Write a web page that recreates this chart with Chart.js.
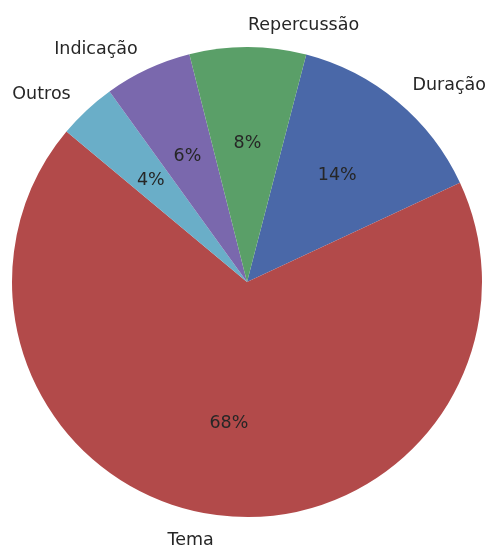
<!DOCTYPE html>
<html>
<head>
<meta charset="utf-8">
<script src="https://cdn.jsdelivr.net/npm/chart.js@4.4.0/dist/chart.umd.min.js"></script>
<style>
  html, body { margin: 0; padding: 0; background: #fff; }
  #wrap { width: 490px; height: 545px; }
</style>
</head>
<body>
<div id="wrap"><canvas id="chart" width="490" height="545"></canvas></div>
<script>
// slice data, clockwise from the top
const labels = ["Duração", "Tema", "Outros", "Indicação", "Repercussão"];
const values = [14, 68, 4, 6, 8];
const colors = ["#4a68a8", "#b24a4a", "#6aaec8", "#7a68ad", "#5a9f68"];

// matplotlib style labels: name outside at 1.1r, percent inside at 0.6r
const pieLabels = {
    id: "pieLabels",
    afterDatasetsDraw(chart) {
        const ctx = chart.ctx;
        const meta = chart.getDatasetMeta(0);
        const total = values.reduce((a, b) => a + b, 0);
        ctx.save();
        ctx.font = "17.5px 'DejaVu Sans'";
        ctx.fillStyle = "#262626";
        ctx.textBaseline = "middle";
        meta.data.forEach((arc, i) => {
            const p = arc.getProps(["x", "y", "startAngle", "endAngle", "outerRadius"], true);
            const mid = (p.startAngle + p.endAngle) / 2;
            const cos = Math.cos(mid), sin = Math.sin(mid);
            // outer label
            const lx = p.x + cos * p.outerRadius * 1.1;
            const ly = p.y + sin * p.outerRadius * 1.1 + 2;
            ctx.textAlign = cos < 0 ? "right" : "left";
            ctx.fillText(labels[i], lx, ly);
            // percent
            const pct = Math.round(values[i] / total * 100) + "%";
            ctx.textAlign = "center";
            ctx.fillText(pct, p.x + cos * p.outerRadius * 0.6, p.y + sin * p.outerRadius * 0.6 + 2);
        });
        ctx.restore();
    }
};

new Chart(document.getElementById("chart"), {
    type: "pie",
    data: {
        labels: labels,
        datasets: [{
            data: values,
            backgroundColor: colors,
            borderWidth: 0
        }]
    },
    options: {
        responsive: false,
        animation: false,
        rotation: 14.6,
        layout: { padding: { left: 12, right: 8, top: 47, bottom: 28 } },
        plugins: {
            legend: { display: false },
            tooltip: { enabled: false }
        }
    },
    plugins: [pieLabels]
});
</script>
</body>
</html>
